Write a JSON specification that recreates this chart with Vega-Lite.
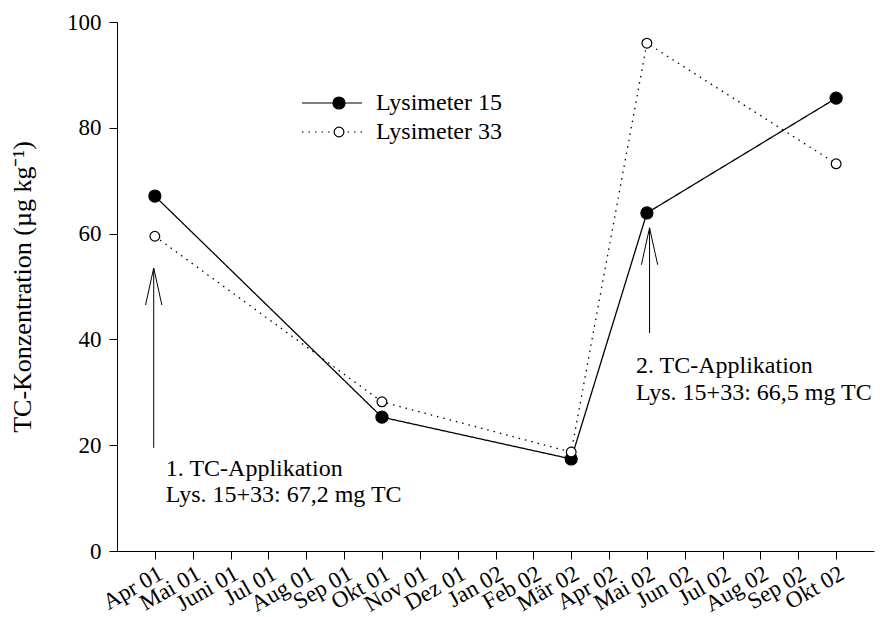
{
  "$schema": "https://vega.github.io/schema/vega-lite/v6.json",
  "width": 757,
  "height": 529,
  "autosize": {"type": "none"},
  "padding": {"left": 117, "top": 22, "right": 13, "bottom": 66},
  "background": "white",
  "config": {
    "view": {"stroke": null},
    "font": "Liberation Serif",
    "axis": {
      "grid": false,
      "domainColor": "black",
      "domainWidth": 1,
      "tickColor": "black",
      "tickWidth": 1,
      "tickSize": 8,
      "labelFont": "Liberation Serif",
      "labelFontSize": 23,
      "labelColor": "black",
      "titleFont": "Liberation Serif",
      "titleFontSize": 26,
      "titleFontWeight": "normal",
      "titleColor": "black"
    }
  },
  "datasets": {
    "obs": [
      {"month": 0, "Lysimeter": "Lysimeter 15", "Serie": "15", "value": 67.1},
      {"month": 6, "Lysimeter": "Lysimeter 15", "Serie": "15", "value": 25.3},
      {"month": 11, "Lysimeter": "Lysimeter 15", "Serie": "15", "value": 17.4},
      {"month": 13, "Lysimeter": "Lysimeter 15", "Serie": "15", "value": 63.9},
      {"month": 18, "Lysimeter": "Lysimeter 15", "Serie": "15", "value": 85.6},
      {"month": 0, "Lysimeter": "Lysimeter 33", "Serie": "33", "value": 59.5},
      {"month": 6, "Lysimeter": "Lysimeter 33", "Serie": "33", "value": 28.2},
      {"month": 11, "Lysimeter": "Lysimeter 33", "Serie": "33", "value": 18.7},
      {"month": 13, "Lysimeter": "Lysimeter 33", "Serie": "33", "value": 96.0},
      {"month": 18, "Lysimeter": "Lysimeter 33", "Serie": "33", "value": 73.2}
    ],
    "arrows": [
      {"month": -0.03, "from": 19.5, "to": 53.5},
      {"month": 13.07, "from": 41.2, "to": 61.1}
    ],
    "notes": [
      {"month": 0.29, "value": 14.2, "text": "1. TC-Applikation"},
      {"month": 0.29, "value": 9.3, "text": "Lys. 15+33: 67,2 mg TC"},
      {"month": 12.71, "value": 33.6, "text": "2. TC-Applikation"},
      {"month": 12.71, "value": 28.5, "text": "Lys. 15+33: 66,5 mg TC"}
    ]
  },
  "layer": [
    {
      "data": {"name": "obs"},
      "mark": {"type": "line", "color": "black", "strokeWidth": 1.3},
      "encoding": {
        "x": {
          "field": "month",
          "type": "quantitative",
          "scale": {"domain": [-1, 19], "nice": false, "zero": false},
          "axis": {
            "title": null,
            "values": [0, 1, 2, 3, 4, 5, 6, 7, 8, 9, 10, 11, 12, 13, 14, 15, 16, 17, 18],
            "labelExpr": "['Apr 01','Mai 01','Juni 01','Jul 01','Aug 01','Sep 01','Okt 01','Nov 01','Dez 01','Jan 02','Feb 02','Mär 02','Apr 02','Mai 02','Jun 02','Jul 02','Aug 02','Sep 02','Okt 02'][datum.value]",
            "labelAngle": -30,
            "labelAlign": "right",
            "labelBaseline": "top",
            "labelOverlap": false,
            "labelFlush": false,
            "labelBound": false,
            "labelPadding": 3
          }
        },
        "y": {
          "field": "value",
          "type": "quantitative",
          "scale": {"domain": [0, 100], "nice": false},
          "axis": {
            "title": "TC-Konzentration (µg kg⁻¹)",
            "values": [0, 20, 40, 60, 80, 100],
            "labelPadding": 8,
            "titleX": -82
          }
        },
        "strokeDash": {
          "field": "Lysimeter",
          "type": "nominal",
          "scale": {"domain": ["Lysimeter 15", "Lysimeter 33"], "range": [[1, 0], [1.5, 5]]},
          "legend": {
            "orient": "none",
            "legendX": 203,
            "legendY": 69,
            "title": null,
            "padding": 0,
            "rowPadding": 5,
            "symbolType": "M-5,0L5,0",
            "symbolSize": 144,
            "symbolStrokeColor": "black",
            "symbolStrokeWidth": 1.2,
            "labelFont": "Liberation Serif",
            "labelFontSize": 24,
            "labelColor": "black",
            "labelOffset": 32,
            "zindex": 0
          }
        }
      }
    },
    {
      "data": {"name": "obs"},
      "mark": {"type": "point", "shape": "circle", "filled": true, "stroke": "black", "strokeWidth": 1.2, "opacity": 1},
      "encoding": {
        "x": {"field": "month", "type": "quantitative"},
        "y": {"field": "value", "type": "quantitative"},
        "fill": {
          "field": "Serie",
          "type": "nominal",
          "scale": {"domain": ["15", "33"], "range": ["black", "white"]},
          "legend": {
            "orient": "none",
            "legendX": 210,
            "legendY": 69,
            "title": null,
            "padding": 0,
            "rowPadding": 5,
            "symbolType": "circle",
            "symbolStrokeColor": "black",
            "symbolStrokeWidth": 1.2,
            "symbolOpacity": 1,
            "labelFontSize": 24,
            "labelExpr": "''",
            "labelOpacity": 0,
            "zindex": 1
          }
        },
        "size": {
          "field": "Serie",
          "type": "nominal",
          "scale": {"domain": ["15", "33"], "range": [145, 95]}
        }
      }
    },
    {
      "data": {"name": "arrows"},
      "mark": {"type": "rule", "color": "black", "strokeWidth": 1},
      "encoding": {
        "x": {"field": "month", "type": "quantitative"},
        "y": {"field": "from", "type": "quantitative"},
        "y2": {"field": "to"}
      }
    },
    {
      "data": {"name": "arrows"},
      "mark": {"type": "point", "shape": "M-0.22,1L0,0L0.22,1", "size": 5476, "filled": false, "stroke": "black", "strokeWidth": 1, "opacity": 1},
      "encoding": {
        "x": {"field": "month", "type": "quantitative"},
        "y": {"field": "to", "type": "quantitative"}
      }
    },
    {
      "data": {"name": "notes"},
      "mark": {"type": "text", "align": "left", "baseline": "alphabetic", "font": "Liberation Serif", "fontSize": 24, "color": "black"},
      "encoding": {
        "x": {"field": "month", "type": "quantitative"},
        "y": {"field": "value", "type": "quantitative"},
        "text": {"field": "text"}
      }
    }
  ]
}
